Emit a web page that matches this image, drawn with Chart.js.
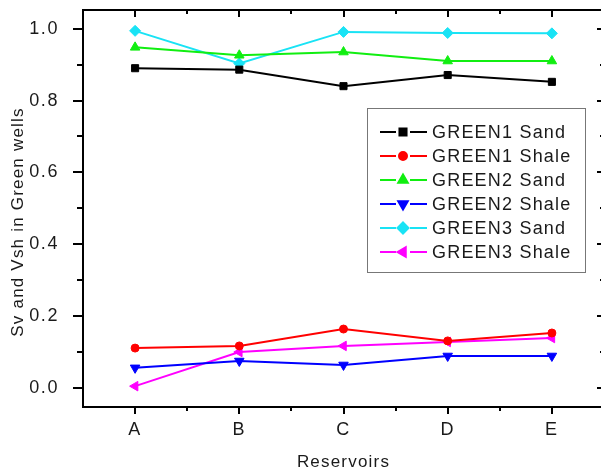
<!DOCTYPE html>
<html>
<head>
<meta charset="utf-8">
<script src="https://cdn.jsdelivr.net/npm/chart.js@4/dist/chart.umd.min.js"></script>
<style>
  html, body { margin: 0; padding: 0; background: #fff; overflow: hidden; }
  #wrap { width: 612px; height: 472px; }
</style>
</head>
<body>
<div id="wrap"><canvas id="svChart" width="612" height="472"></canvas></div>
<script>
// Data
const reservoirs  = ['A', 'B', 'C', 'D', 'E'];
const green1Sand  = [0.890, 0.886, 0.840, 0.871, 0.852];
const green1Shale = [0.111, 0.117, 0.164, 0.131, 0.153];
const green2Sand  = [0.948, 0.926, 0.935, 0.910, 0.910];
const green2Shale = [0.056, 0.075, 0.064, 0.089, 0.089];
const green3Sand  = [0.994, 0.903, 0.991, 0.988, 0.987];
const green3Shale = [0.005, 0.100, 0.117, 0.128, 0.139];
const yTicks      = [0, 0.2, 0.4, 0.6, 0.8, 1.0];

const FONT = '"Liberation Sans", Arial, sans-serif';
const TEXT = '#1a1a1a';

function series(label, data, color, style, radius, rotation) {
  return {
    label, data,
    borderColor: color,
    backgroundColor: color,
    borderWidth: 2,
    pointStyle: style,
    pointRadius: radius,
    pointHoverRadius: radius,
    pointRotation: rotation || 0,
    pointBorderWidth: 1,
    tension: 0,
    fill: false,
  };
}

const datasets = [
  series('GREEN1 Sand',  green1Sand,  '#000000', 'rect',     5),
  series('GREEN1 Shale', green1Shale, '#ff0000', 'circle',   4),
  series('GREEN2 Sand',  green2Sand,  '#11ee11', 'triangle', 5.5),
  series('GREEN2 Shale', green2Shale, '#0000ff', 'triangle', 5.5, 180),
  series('GREEN3 Sand',  green3Sand,  '#19e3f5', 'rectRot',  5.5),
  series('GREEN3 Shale', green3Shale, '#ff00ff', 'triangle', 5.5, 270),
];

// no automatic label padding, the plot box is placed by layout.padding
function noPad(scale) {
  scale.paddingTop = 0;
  scale.paddingBottom = 0;
  scale.paddingLeft = 0;
  scale.paddingRight = 0;
}

//  Frame, ticks, legend and axis titles (Origin look)
const originFrame = {
  id: 'originFrame',
  beforeDraw(chart) {
    chart.ctx.letterSpacing = '1.6px';
  },
  afterDraw(chart) {
    const ctx = chart.ctx;
    const { left, right, top, bottom } = chart.chartArea;
    const xs = chart.scales.x, ys = chart.scales.y;
    ctx.save();
    ctx.strokeStyle = '#000';
    ctx.lineWidth = 2;
    ctx.strokeRect(left, top, right - left, bottom - top);

    ctx.beginPath();
    // y ticks: outward on left, inward on right
    for (let i = 0; i <= 10; i++) {
      const y = Math.round(ys.getPixelForValue(i / 10));
      const major = i % 2 === 0;
      ctx.moveTo(left - (major ? 10 : 6), y); ctx.lineTo(left, y);
      ctx.moveTo(right, y); ctx.lineTo(right - (major ? 7 : 4), y);
    }
    // x ticks: outward on bottom, inward on top
    for (let i = 0; i < reservoirs.length; i++) {
      const x = Math.round(xs.getPixelForValue(i));
      ctx.moveTo(x, bottom); ctx.lineTo(x, bottom + 7);
      ctx.moveTo(x, top); ctx.lineTo(x, top + 7);
      if (i < reservoirs.length - 1) {
        const xm = Math.round((x + xs.getPixelForValue(i + 1)) / 2);
        ctx.moveTo(xm, bottom); ctx.lineTo(xm, bottom + 4);
        ctx.moveTo(xm, top); ctx.lineTo(xm, top + 4);
      }
    }
    ctx.stroke();

    // legend box
    const lx = 367, ly = 108, lw = 218, lh = 164;
    ctx.lineWidth = 1;
    ctx.strokeStyle = '#777';
    ctx.strokeRect(lx + 0.5, ly + 0.5, lw, lh);
    ctx.font = '18px ' + FONT;
    ctx.letterSpacing = '1.2px';
    ctx.textAlign = 'left';
    ctx.textBaseline = 'middle';
    chart.data.datasets.forEach((ds, i) => {
      const y = ly + 24 + i * 24;
      ctx.strokeStyle = ds.borderColor;
      ctx.lineWidth = 2;
      ctx.beginPath();
      ctx.moveTo(380, y); ctx.lineTo(396, y);
      ctx.moveTo(410, y); ctx.lineTo(427, y);
      ctx.stroke();
      ctx.fillStyle = ds.backgroundColor;
      Chart.helpers.drawPoint(ctx, {
        pointStyle: ds.pointStyle, rotation: ds.pointRotation,
        radius: ds.pointRadius, borderWidth: 1,
      }, 403, y);
      ctx.fillStyle = TEXT;
      ctx.fillText(ds.label, 432, y + 1);
    });

    // axis titles
    ctx.fillStyle = TEXT;
    ctx.font = '17px ' + FONT;
    ctx.letterSpacing = '1.2px';
    ctx.textAlign = 'center';
    ctx.fillText('Reservoirs', (left + right) / 2, 462);
    ctx.translate(18, 222);
    ctx.rotate(-Math.PI / 2);
    ctx.fillText('Sv and Vsh in Green wells', 0, 0);
    ctx.restore();
  }
};

new Chart(document.getElementById('svChart'), {
  type: 'line',
  data: { labels: reservoirs, datasets },
  plugins: [originFrame],
  options: {
    responsive: false,
    animation: false,
    layout: { padding: { left: 0, top: 10, right: 8, bottom: 0 } },
    plugins: { legend: { display: false }, tooltip: { enabled: false } },
    scales: {
      x: {
        type: 'category',
        offset: true,
        grid: { display: false },
        border: { display: false },
        ticks: { color: TEXT, font: { family: FONT, size: 18 }, padding: 4, maxRotation: 0 },
        afterFit(scale) { scale.height = 65; noPad(scale); },
      },
      y: {
        min: -0.053,
        max: 1.052,
        afterBuildTicks(scale) { scale.ticks = yTicks.map(v => ({ value: v })); },
        grid: { display: false },
        border: { display: false },
        ticks: {
          color: TEXT, font: { family: FONT, size: 18 }, padding: 16,
          callback: v => v.toFixed(1),
        },
        afterFit(scale) { scale.width = 83; noPad(scale); },
      }
    }
  }
});
</script>
</body>
</html>
